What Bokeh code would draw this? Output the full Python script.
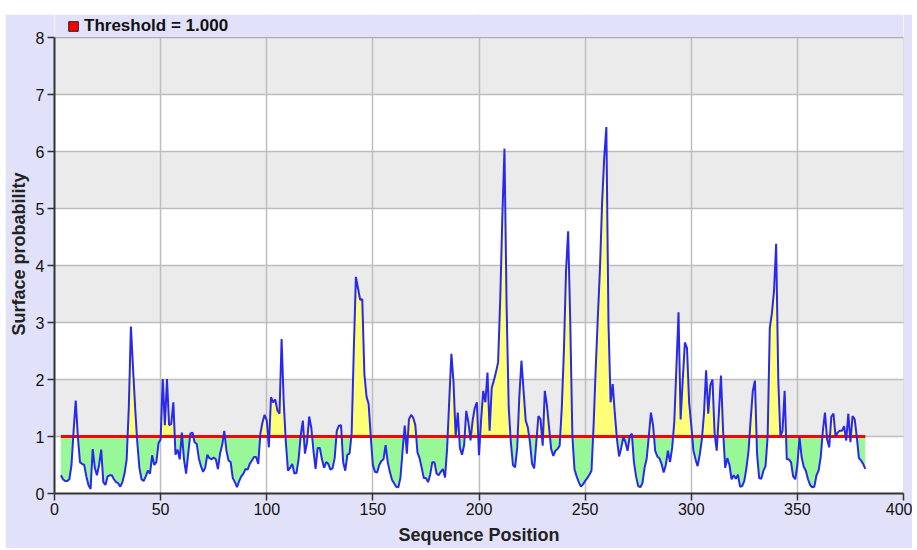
from bokeh.plotting import figure
from bokeh.models import Legend, LegendItem, BoxAnnotation, FixedTicker, Range1d
from bokeh.embed import file_html
from bokeh.resources import INLINE

# ---- data ----
threshold = 1.0
start_pos = 3
surface = [
    0.32, 0.25, 0.22, 0.22, 0.25, 0.5, 1.1, 1.63, 1.0, 0.55,          # 3-12
    0.52, 0.5, 0.3, 0.15, 0.08, 0.78, 0.45, 0.32, 0.5, 0.77,          # 13-22
    0.2, 0.15, 0.3, 0.32, 0.32, 0.25, 0.2, 0.18, 0.12, 0.2,           # 23-32
    0.35, 0.6, 1.5, 2.93, 2.2, 1.5, 0.9, 0.45, 0.25, 0.22,            # 33-42
    0.3, 0.4, 0.35, 0.67, 0.5, 0.55, 0.88, 0.95, 2.01, 1.2,           # 43-52
    2.01, 1.2, 1.22, 1.6, 0.68, 0.77, 0.6, 1.07, 0.6, 0.35,           # 53-62
    0.7, 1.05, 1.07, 0.9, 0.87, 0.62, 0.48, 0.38, 0.45, 0.68,         # 63-72
    0.62, 0.6, 0.63, 0.6, 0.43, 0.7, 0.85, 1.1, 0.75, 0.58,           # 73-82
    0.55, 0.27, 0.2, 0.11, 0.22, 0.3, 0.35, 0.43, 0.42, 0.52,         # 83-92
    0.58, 0.64, 0.64, 0.52, 1.05, 1.25, 1.38, 1.28, 0.81, 1.69,       # 93-102
    1.6, 1.65, 1.46, 1.4, 2.71, 1.6, 0.9, 0.4, 0.45, 0.52,            # 103-112
    0.35, 0.36, 0.6, 1.02, 1.28, 0.7, 0.9, 1.35, 1.15, 0.75,          # 113-122
    0.43, 0.8, 0.8, 0.6, 0.45, 0.55, 0.52, 0.42, 0.44, 0.62,          # 123-132
    1.1, 1.19, 1.2, 0.55, 0.4, 0.68, 0.7, 1.05, 2.5, 3.8,             # 133-142
    3.6, 3.4, 3.41, 2.1, 1.7, 1.57, 1.0, 0.5, 0.38, 0.37,             # 143-152
    0.5, 0.57, 0.6, 0.85, 0.55, 0.38, 0.24, 0.18, 0.12, 0.11,         # 153-162
    0.28, 0.75, 1.19, 0.7, 1.3, 1.38, 1.33, 1.2, 0.72, 0.62,          # 163-172
    0.45, 0.27, 0.27, 0.2, 0.33, 0.55, 0.55, 0.35, 0.32, 0.38,        # 173-182
    0.43, 0.28, 0.8, 1.65, 2.45, 1.95, 1.0, 1.42, 0.8, 0.68,          # 183-192
    0.85, 1.45, 1.25, 0.93, 1.28, 1.5, 1.6, 0.67, 1.3, 1.8,           # 193-202
    1.6, 2.12, 1.1, 1.85, 1.98, 2.13, 2.3, 3.4, 4.85, 6.05,           # 203-212
    3.3, 1.51, 0.9, 0.5, 0.46, 0.8, 1.7, 2.33, 1.8, 1.28,             # 213-222
    1.16, 0.9, 0.52, 0.44, 0.9, 1.36, 1.3, 0.84, 1.8, 1.55,           # 223-232
    1.16, 0.78, 0.66, 0.75, 0.78, 0.84, 1.5, 2.5, 3.9, 4.6,           # 233-242
    3.0, 1.0, 0.42, 0.3, 0.2, 0.12, 0.16, 0.22, 0.27, 0.33,           # 243-252
    0.4, 1.2, 2.2, 3.1, 3.95, 5.1, 5.9, 6.43, 3.0, 1.6,               # 253-262
    1.92, 1.4, 0.95, 0.65, 0.8, 0.99, 0.9, 0.75, 1.0, 1.05,           # 263-272
    0.55, 0.3, 0.13, 0.11, 0.18, 0.45, 0.61, 1.0, 1.42, 1.2,          # 273-282
    0.75, 0.65, 0.62, 0.52, 0.37, 0.5, 0.75, 0.55, 0.8, 1.25,         # 283-292
    2.2, 3.18, 1.3, 2.0, 2.65, 2.55, 1.6, 1.2, 0.76, 0.6,             # 293-302
    0.48, 0.68, 0.95, 1.4, 2.16, 1.4, 1.9, 2.0, 1.05, 0.75,           # 303-312
    1.4, 2.07, 1.1, 0.45, 0.62, 0.5, 0.25, 0.32, 0.26, 0.33,          # 313-322
    0.12, 0.13, 0.22, 0.45, 0.75, 1.3, 1.8, 1.98, 0.7, 0.27,          # 323-332
    0.26, 0.4, 0.48, 1.0, 2.9, 3.16, 3.56, 4.38, 2.0, 1.0,            # 333-342
    1.1, 1.8, 0.6, 0.6, 0.55, 0.3, 0.25, 0.5, 0.99, 0.64,             # 343-352
    0.47, 0.4, 0.25, 0.15, 0.11, 0.12, 0.32, 0.4, 0.64, 1.1,          # 353-362
    1.42, 0.95, 0.81, 1.35, 1.4, 1.0, 1.07, 1.1, 1.1, 1.18,           # 363-372
    0.93, 1.4, 0.9, 1.36, 1.3, 0.99, 0.62, 0.58, 0.52, 0.43,          # 373-382
]
positions = list(range(start_pos, start_pos + len(surface)))
x_ticks = [0, 50, 100, 150, 200, 250, 300, 350, 400]
y_ticks = [0, 1, 2, 3, 4, 5, 6, 7, 8]
x_min, x_max = 0, 400
y_min, y_max = 0, 8
legend_label = "Threshold = 1.000"

# densify with threshold crossings so the fills meet the threshold exactly
dx, dy = [], []
for i in range(len(surface) - 1):
    x0, y0, x1, y1 = positions[i], surface[i], positions[i + 1], surface[i + 1]
    dx.append(x0); dy.append(y0)
    if (y0 - threshold) * (y1 - threshold) < 0:
        xc = x0 + (threshold - y0) / (y1 - y0) * (x1 - x0)
        dx.append(xc); dy.append(threshold)
dx.append(positions[-1]); dy.append(surface[-1])
upper = [max(v, threshold) for v in dy]
lower = [min(v, threshold) for v in dy]

LAV = "#e1e1f9"
FONT = "Liberation Sans"

# layout geometry (pixels)
W, H = 907, 534
B_LEFT, B_RIGHT, B_BOTTOM, B_TOP = 46, 9, 55, 0
frame_h = H - B_BOTTOM - B_TOP
plot_h = 456                     # pixel height of the 0..8 data area
y_view_top = y_max * frame_h / plot_h   # extra headroom above 8 holds the legend

p = figure(width=W, height=H, output_backend="svg", toolbar_location=None,
           x_range=Range1d(x_min, x_max), y_range=Range1d(y_min, y_view_top),
           min_border_left=B_LEFT, min_border_right=B_RIGHT,
           min_border_top=B_TOP, min_border_bottom=B_BOTTOM)
p.margin = (14, 3, 2, 5)
p.background_fill_color = "white"
p.border_fill_color = LAV
p.outline_line_color = None

for lo in [1, 3, 5, 7]:
    p.add_layout(BoxAnnotation(bottom=lo, top=lo + 1, fill_color="#ebebeb", fill_alpha=1.0,
                               line_alpha=0, level="image"))

p.xgrid.grid_line_color = "#bdbdbd"
p.ygrid.grid_line_color = "#bdbdbd"
p.xgrid.grid_line_width = 1.5
p.ygrid.grid_line_width = 1.5

# lavender strip above the data area (legend lives there)
p.add_layout(BoxAnnotation(bottom=y_max, fill_color=LAV, fill_alpha=1.0, line_alpha=0, level="glyph"))
# plot outline around the data area
p.add_layout(BoxAnnotation(left=x_min, right=x_max, bottom=y_min, top=y_max, fill_alpha=0,
                           line_color="#555555", line_width=1, level="glyph"))

p.varea(x=dx, y1=[threshold] * len(dx), y2=upper, fill_color="#ffff77")
p.varea(x=dx, y1=lower, y2=[threshold] * len(dx), fill_color="#98f898")
p.line([positions[0], positions[-1]], [threshold, threshold], line_color="#ff0000", line_width=3)
p.line(positions, surface, line_color="#2828f0", line_width=2)

# legend key: a red square (single NaN point, never drawn in the plot)
nan = float("nan")
leg_r = p.quad(left=[nan], right=[nan], top=[nan], bottom=[nan],
               fill_color="#ff0000", line_color="#222222", line_width=1)

for ax in (p.xaxis[0], p.yaxis[0]):
    ax.axis_line_color = "#333333"
    ax.axis_line_width = 2
    ax.major_tick_line_color = "#333333"
    ax.major_tick_line_width = 1.5
    ax.major_tick_out = 7
    ax.major_tick_in = 0
    ax.minor_tick_line_color = None
    ax.major_label_text_font = FONT
    ax.major_label_text_font_size = "16px"
    ax.major_label_text_color = "#111111"
    ax.axis_label_text_font = FONT
    ax.axis_label_text_font_style = "bold"
    ax.axis_label_text_font_size = "18px"
    ax.axis_label_text_color = "#222222"

p.yaxis.bounds = (y_min, y_max)
p.xaxis.ticker = FixedTicker(ticks=x_ticks)
p.yaxis.ticker = FixedTicker(ticks=y_ticks)
p.xaxis.axis_label = "Sequence Position"
p.yaxis.axis_label = "Surface probability"
p.xaxis.major_label_standoff = 2
p.yaxis.major_label_standoff = 3
p.xaxis.axis_label_standoff = 7
p.yaxis.axis_label_standoff = 4

legend = Legend(items=[LegendItem(label=legend_label, renderers=[leg_r])],
                location=(11, plot_h - 1), orientation="horizontal",
                background_fill_alpha=0, border_line_alpha=0,
                margin=0, padding=2, spacing=0, label_standoff=5,
                glyph_width=12, glyph_height=12,
                label_text_font=FONT, label_text_font_style="bold",
                label_text_font_size="17px", label_text_color="#111111")
p.add_layout(legend)

open("out.html", "w").write(file_html(p, INLINE))
